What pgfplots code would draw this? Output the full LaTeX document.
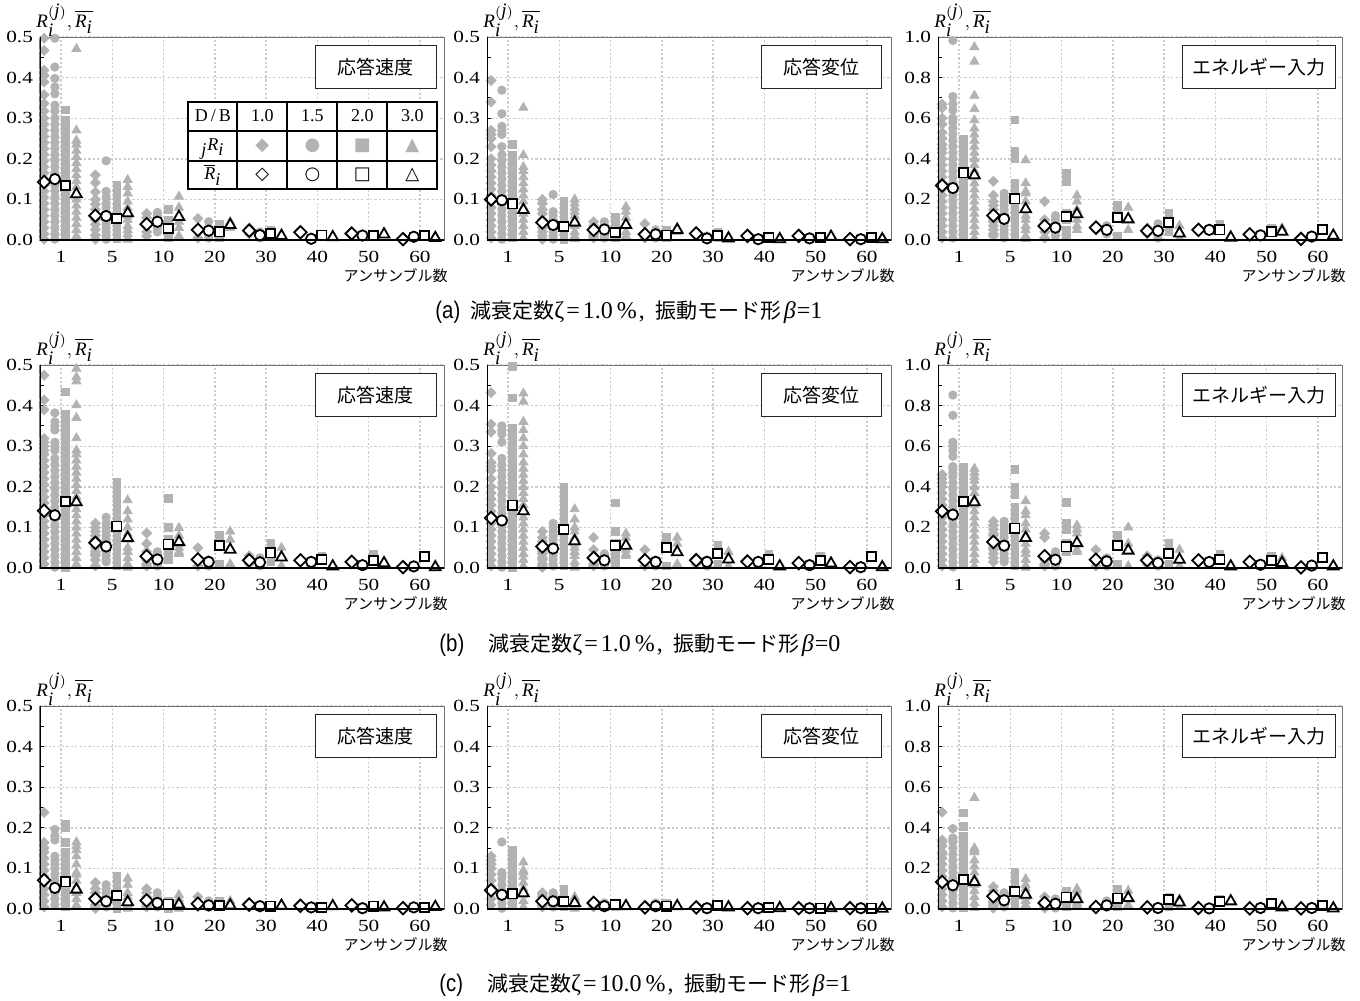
\documentclass[border=0pt]{standalone}
\usepackage{fontspec}
\setmainfont{Liberation Serif}
\newfontfamily\cjk{Noto Sans CJK JP}
\newfontfamily\arialn{Liberation Sans}[FakeStretch=0.85]
\newfontfamily\tickfont{Liberation Serif}[FakeStretch=1.25]
\newfontfamily\dejavu{DejaVu Sans}
\usepackage{array}
\usepackage{pgfplots}
\usepackage{pgfplotstable}
\pgfplotsset{compat=1.18}
\definecolor{gr}{RGB}{178,178,178}

\pgfplotsset{
 pan/.style={scale only axis, width=202pt, height=101.5pt, xmin=-0.41, xmax=7.47, ymin=0,
  xtick={0,...,7}, xticklabels={1,5,10,20,30,40,50,60},
  grid=major, major grid style={black!20, line width=0.7pt, dash pattern=on 1.1pt off 1.1pt},
  axis line style={black!55, line width=0.5pt},
  tick align=inside, xtick style={draw=none}, ytick pos=left,
  minor y tick num=1, major tick length=2pt, minor tick length=2pt,
  ytick style={black, line width=0.5pt},
  tick label style={font=\tickfont\fontsize{8.5}{9}\selectfont},
  xticklabel style={yshift=-2pt},
  /pgf/number format/assume math mode=true,
  yticklabel style={/pgf/number format/fixed, /pgf/number format/fixed zerofill, /pgf/number format/precision=1},
 },
 half/.style={pan, ymax=0.5, ytick={0,0.1,0.2,0.3,0.4,0.5}},
 full/.style={pan, ymax=1.0, ytick={0,0.2,0.4,0.6,0.8,1.0}},
 gD/.style={only marks, color=gr, mark=square*, mark size=1.75pt, mark options={rotate=45}},
 gC/.style={only marks, color=gr, mark=*, mark size=2.1pt},
 gS/.style={only marks, color=gr, mark=square*, mark size=1.9pt},
 gT/.style={only marks, color=gr, mark=triangle*, mark size=2.6pt},
 mD/.style={only marks, black, mark=square*, mark size=2.2pt, mark options={rotate=45, fill=white, line width=0.9pt}},
 mC/.style={only marks, black, mark=*, mark size=2.6pt, mark options={fill=white, line width=0.9pt}},
 mS/.style={only marks, black, mark=square*, mark size=2.3pt, mark options={fill=white, line width=0.9pt}},
 mT/.style={only marks, black, mark=triangle*, mark size=3.1pt, mark options={fill=white, line width=0.9pt}},
}
\newcommand\G[3]{\addplot[#1] table[header=false, x expr=\thisrowno{0}#2, y index=1, row sep=\\]{#3};}
\newcommand\M[1]{%
\addplot[mD] table[x expr=\thisrow{x}-.33,y=d]{#1};
\addplot[mC] table[x expr=\thisrow{x}-.12,y=c]{#1};
\addplot[mS] table[x expr=\thisrow{x}+.09,y=s]{#1};
\addplot[mT] table[x expr=\thisrow{x}+.30,y=t]{#1};}
\newcommand\cj[1]{{\cjk\fontsize{10.5}{12}\selectfont #1}}

\pgfplotstableread[row sep=\\]{x d c s t\\0 0.143 0.150 0.134 0.113\\1 0.060 0.059 0.053 0.066\\2 0.039 0.045 0.029 0.057\\3 0.025 0.023 0.020 0.037\\4 0.023 0.012 0.016 0.010\\5 0.019 0.003 0.012 0.007\\6 0.016 0.011 0.011 0.014\\7 0.002 0.008 0.010 0.005\\}\MAa
\pgfplotstableread[row sep=\\]{x d c s t\\0 0.100 0.098 0.089 0.074\\1 0.043 0.037 0.034 0.043\\2 0.025 0.026 0.018 0.037\\3 0.014 0.014 0.012 0.025\\4 0.016 0.004 0.011 0.004\\5 0.010 0.002 0.006 0.002\\6 0.010 0.004 0.006 0.008\\7 0.002 0.002 0.006 0.002\\}\MAb
\pgfplotstableread[row sep=\\]{x d c s t\\0 0.268 0.256 0.331 0.319\\1 0.121 0.104 0.202 0.152\\2 0.069 0.061 0.116 0.127\\3 0.061 0.050 0.112 0.102\\4 0.045 0.045 0.086 0.033\\5 0.050 0.050 0.050 0.012\\6 0.028 0.023 0.040 0.041\\7 0.005 0.017 0.053 0.021\\}\MAc
\pgfplotstableread[row sep=\\]{x d c s t\\0 0.141 0.130 0.164 0.162\\1 0.062 0.053 0.103 0.074\\2 0.029 0.021 0.059 0.064\\3 0.021 0.015 0.055 0.045\\4 0.019 0.014 0.037 0.026\\5 0.019 0.015 0.021 0.004\\6 0.015 0.007 0.018 0.012\\7 0.002 0.004 0.029 0.002\\}\MBa
\pgfplotstableread[row sep=\\]{x d c s t\\0 0.123 0.117 0.155 0.140\\1 0.053 0.048 0.095 0.066\\2 0.025 0.019 0.055 0.055\\3 0.019 0.015 0.051 0.039\\4 0.019 0.015 0.035 0.021\\5 0.016 0.015 0.021 0.004\\6 0.012 0.007 0.018 0.011\\7 0.002 0.002 0.029 0.002\\}\MBb
\pgfplotstableread[row sep=\\]{x d c s t\\0 0.280 0.263 0.329 0.324\\1 0.128 0.110 0.197 0.148\\2 0.058 0.041 0.104 0.123\\3 0.041 0.033 0.110 0.086\\4 0.038 0.025 0.071 0.041\\5 0.038 0.030 0.041 0.008\\6 0.030 0.016 0.036 0.025\\7 0.003 0.012 0.053 0.008\\}\MBc
\pgfplotstableread[row sep=\\]{x d c s t\\0 0.071 0.052 0.067 0.048\\1 0.025 0.019 0.033 0.017\\2 0.021 0.015 0.012 0.011\\3 0.013 0.009 0.009 0.009\\4 0.011 0.007 0.007 0.008\\5 0.008 0.004 0.004 0.007\\6 0.009 0.002 0.007 0.004\\7 0.002 0.004 0.004 0.005\\}\MCa
\pgfplotstableread[row sep=\\]{x d c s t\\0 0.046 0.035 0.037 0.039\\1 0.019 0.019 0.019 0.015\\2 0.015 0.007 0.011 0.007\\3 0.004 0.007 0.007 0.007\\4 0.004 0.002 0.008 0.004\\5 0.002 0.002 0.004 0.002\\6 0.002 0.002 0.002 0.002\\7 0.002 0.002 0.002 0.001\\}\MCb
\pgfplotstableread[row sep=\\]{x d c s t\\0 0.133 0.117 0.145 0.133\\1 0.063 0.043 0.087 0.071\\2 0.030 0.026 0.059 0.049\\3 0.010 0.018 0.054 0.054\\4 0.008 0.005 0.046 0.033\\5 0.005 0.003 0.038 0.038\\6 0.003 0.005 0.026 0.008\\7 0.003 0.005 0.018 0.003\\}\MCc

\begin{document}
\begin{tikzpicture}
\useasboundingbox (0,0) rectangle (680pt,-500.5pt);

% ---------------- (a) velocity
\begin{axis}[half, name=a1, at={(20pt,-120pt)}, anchor=south west]
\G{gD}{-.33}{0 .497\\0 .467\\0 .418\\0 .405\\0 .389\\0 .358\\0 .336\\0 .318\\0 .3\\0 .285\\0 .27\\0 .255\\0 .24\\0 .225\\0 .21\\0 .195\\0 .18\\0 .165\\0 .15\\0 .135\\0 .12\\0 .105\\0 .09\\0 .075\\0 .06\\0 .045\\0 .03\\0 .015\\0 .002\\1 .16\\1 .141\\1 .118\\1 .1\\1 .088\\1 .075\\1 .062\\1 .05\\1 .038\\1 .025\\1 .012\\1 .002\\2 .065\\2 .055\\2 .045\\2 .035\\2 .02\\2 .01\\3 .053\\3 .025\\3 .005\\4 .03\\4 .015\\}
\G{gC}{-.12}{0 .497\\0 .426\\0 .398\\0 .377\\0 .36\\0 .332\\0 .318\\0 .3\\0 .285\\0 .27\\0 .255\\0 .24\\0 .225\\0 .21\\0 .195\\0 .18\\0 .165\\0 .15\\0 .135\\0 .12\\0 .105\\0 .09\\0 .075\\0 .06\\0 .045\\0 .03\\0 .015\\0 .002\\1 .195\\1 .12\\1 .105\\1 .09\\1 .08\\1 .065\\1 .05\\1 .04\\1 .03\\1 .02\\1 .01\\1 .002\\2 .068\\2 .06\\2 .05\\2 .04\\2 .03\\2 .02\\3 .045\\3 .02\\3 .005\\4 .02\\4 .005\\}
\G{gS}{+.09}{0 .32\\0 .295\\0 .28\\0 .265\\0 .25\\0 .235\\0 .22\\0 .205\\0 .19\\0 .175\\0 .16\\0 .145\\0 .13\\0 .115\\0 .1\\0 .085\\0 .07\\0 .055\\0 .04\\0 .025\\0 .01\\1 .135\\1 .124\\1 .112\\1 .1\\1 .088\\1 .076\\1 .064\\1 .052\\1 .04\\1 .028\\1 .016\\1 .004\\2 .075\\2 .05\\2 .035\\2 .02\\2 .01\\2 .005\\3 .04\\3 .015\\3 .005\\4 .025\\4 .01\\6 .015\\}
\G{gT}{+.30}{0 .471\\0 .27\\0 .245\\0 .235\\0 .22\\0 .205\\0 .19\\0 .175\\0 .16\\0 .145\\0 .13\\0 .115\\0 .1\\0 .085\\0 .07\\0 .055\\0 .04\\0 .025\\0 .01\\1 .148\\1 .131\\1 .115\\1 .095\\1 .08\\1 .06\\1 .05\\1 .035\\1 .025\\1 .015\\1 .005\\1 .001\\2 .107\\2 .08\\2 .06\\2 .045\\2 .03\\2 .01\\3 .045\\3 .035\\3 .03\\4 .015\\4 .005\\}
\M{\MAa}
\end{axis}

% ---------------- (a) displacement
\begin{axis}[half, name=a2, at={(243.5pt,-120pt)}, anchor=south west]
\G{gD}{-.33}{0 .393\\0 .34\\0 .27\\0 .26\\0 .25\\0 .23\\0 .2\\0 .185\\0 .17\\0 .155\\0 .14\\0 .125\\0 .11\\0 .095\\0 .08\\0 .065\\0 .05\\0 .035\\0 .02\\0 .005\\1 .1\\1 .09\\1 .075\\1 .065\\1 .05\\1 .04\\1 .03\\1 .02\\1 .01\\1 .002\\2 .045\\2 .035\\2 .025\\2 .015\\2 .01\\2 .005\\3 .04\\3 .015\\3 .005\\4 .02\\4 .01\\}
\G{gC}{-.12}{0 .369\\0 .311\\0 .28\\0 .27\\0 .26\\0 .23\\0 .21\\0 .195\\0 .18\\0 .165\\0 .15\\0 .135\\0 .12\\0 .105\\0 .09\\0 .075\\0 .06\\0 .045\\0 .03\\0 .015\\0 .002\\1 .112\\1 .07\\1 .06\\1 .05\\1 .04\\1 .03\\1 .02\\1 .01\\1 .002\\2 .045\\2 .035\\2 .025\\2 .015\\2 .01\\2 .005\\3 .025\\3 .015\\3 .005\\4 .01\\4 .002\\}
\G{gS}{+.09}{0 .236\\0 .21\\0 .2\\0 .185\\0 .17\\0 .155\\0 .14\\0 .125\\0 .11\\0 .095\\0 .08\\0 .065\\0 .05\\0 .035\\0 .02\\0 .005\\1 .095\\1 .085\\1 .07\\1 .06\\1 .05\\1 .04\\1 .03\\1 .02\\1 .01\\1 .002\\2 .057\\2 .04\\2 .03\\2 .02\\2 .01\\2 .005\\3 .025\\3 .01\\3 .005\\4 .02\\4 .005\\}
\G{gT}{+.30}{0 .326\\0 .209\\0 .18\\0 .17\\0 .155\\0 .14\\0 .125\\0 .11\\0 .095\\0 .08\\0 .065\\0 .05\\0 .035\\0 .02\\0 .005\\1 .1\\1 .09\\1 .08\\1 .07\\1 .06\\1 .05\\1 .035\\1 .02\\1 .01\\1 .002\\2 .082\\2 .07\\2 .055\\2 .04\\2 .02\\2 .01\\3 .03\\3 .025\\3 .02\\4 .005\\4 .002\\}
\M{\MAb}
\end{axis}

% ---------------- (a) energy
\begin{axis}[full, name=a3, at={(469pt,-120pt)}, anchor=south west]
\G{gD}{-.33}{0 .669\\0 .65\\0 .6\\0 .57\\0 .53\\0 .5\\0 .47\\0 .45\\0 .43\\0 .4\\0 .37\\0 .34\\0 .31\\0 .28\\0 .25\\0 .22\\0 .19\\0 .16\\0 .13\\0 .1\\0 .07\\0 .04\\0 .01\\1 .289\\1 .22\\1 .19\\1 .17\\1 .15\\1 .12\\1 .1\\1 .09\\1 .07\\1 .05\\1 .03\\1 .02\\2 .19\\2 .1\\2 .08\\2 .06\\2 .04\\2 .01\\3 .07\\3 .06\\3 .05\\4 .06\\4 .03\\}
\G{gC}{-.12}{0 .983\\0 .707\\0 .67\\0 .64\\0 .6\\0 .58\\0 .55\\0 .52\\0 .49\\0 .46\\0 .43\\0 .4\\0 .37\\0 .34\\0 .31\\0 .28\\0 .25\\0 .22\\0 .19\\0 .16\\0 .13\\0 .1\\0 .07\\0 .04\\0 .01\\1 .23\\1 .21\\1 .19\\1 .17\\1 .15\\1 .13\\1 .11\\1 .09\\1 .07\\1 .05\\1 .03\\1 .01\\2 .12\\2 .1\\2 .08\\2 .06\\2 .04\\2 .02\\3 .07\\3 .04\\3 .03\\4 .08\\4 .01\\}
\G{gS}{+.09}{0 .496\\0 .47\\0 .44\\0 .41\\0 .38\\0 .35\\0 .32\\0 .29\\0 .26\\0 .23\\0 .2\\0 .17\\0 .14\\0 .11\\0 .08\\0 .05\\0 .02\\1 .592\\1 .438\\1 .4\\1 .28\\1 .25\\1 .22\\1 .19\\1 .16\\1 .12\\1 .09\\1 .05\\1 .02\\2 .331\\2 .29\\2 .13\\2 .1\\2 .05\\2 .02\\3 .17\\3 .14\\3 .02\\4 .13\\4 .04\\5 .08\\6 .06\\}
\G{gT}{+.30}{0 .95\\0 .879\\0 .711\\0 .645\\0 .59\\0 .55\\0 .52\\0 .49\\0 .46\\0 .43\\0 .4\\0 .37\\0 .34\\0 .31\\0 .28\\0 .25\\0 .22\\0 .19\\0 .16\\0 .13\\0 .1\\0 .07\\0 .04\\0 .01\\1 .393\\1 .28\\1 .24\\1 .23\\1 .19\\1 .15\\1 .12\\1 .1\\1 .07\\1 .05\\1 .02\\1 .005\\2 .22\\2 .19\\2 .15\\2 .1\\2 .07\\2 .05\\3 .16\\3 .1\\3 .05\\4 .07\\4 .01\\6 .06\\}
\M{\MAc}
\end{axis}

% ---------------- (b) velocity
\begin{axis}[half, name=a4, at={(20pt,-284pt)}, anchor=south west]
\G{gD}{-.33}{0 .475\\0 .414\\0 .39\\0 .319\\0 .31\\0 .3\\0 .29\\0 .28\\0 .265\\0 .25\\0 .235\\0 .22\\0 .205\\0 .19\\0 .175\\0 .16\\0 .145\\0 .13\\0 .115\\0 .1\\0 .085\\0 .07\\0 .055\\0 .04\\0 .025\\0 .01\\1 .11\\1 .1\\1 .09\\1 .08\\1 .07\\1 .06\\1 .05\\1 .04\\1 .035\\1 .03\\1 .02\\1 .005\\2 .086\\2 .06\\2 .04\\2 .02\\2 .01\\2 .005\\3 .05\\3 .02\\3 .005\\4 .03\\4 .01\\}
\G{gC}{-.12}{0 .382\\0 .36\\0 .35\\0 .34\\0 .31\\0 .3\\0 .29\\0 .27\\0 .255\\0 .24\\0 .225\\0 .21\\0 .195\\0 .18\\0 .165\\0 .15\\0 .135\\0 .12\\0 .105\\0 .09\\0 .075\\0 .06\\0 .045\\0 .03\\0 .015\\0 .002\\1 .125\\1 .11\\1 .1\\1 .09\\1 .08\\1 .07\\1 .06\\1 .05\\1 .04\\1 .03\\1 .02\\1 .015\\2 .04\\2 .035\\2 .03\\2 .02\\2 .01\\2 .005\\3 .02\\3 .01\\3 .005\\4 .025\\4 .005\\}
\G{gS}{+.09}{0 .434\\0 .38\\0 .37\\0 .36\\0 .345\\0 .33\\0 .315\\0 .3\\0 .285\\0 .27\\0 .255\\0 .24\\0 .225\\0 .21\\0 .195\\0 .18\\0 .165\\0 .15\\0 .135\\0 .12\\0 .105\\0 .09\\0 .075\\0 .06\\0 .045\\0 .03\\0 .015\\0 .002\\1 .211\\1 .195\\1 .18\\1 .16\\1 .14\\1 .12\\1 .1\\1 .08\\1 .06\\1 .04\\1 .02\\1 .005\\2 .171\\2 .1\\2 .07\\2 .05\\2 .03\\2 .02\\3 .08\\3 .07\\3 .01\\4 .06\\4 .015\\5 .03\\6 .035\\}
\G{gT}{+.30}{0 .491\\0 .47\\0 .46\\0 .401\\0 .37\\0 .32\\0 .29\\0 .28\\0 .265\\0 .25\\0 .235\\0 .22\\0 .205\\0 .19\\0 .175\\0 .16\\0 .145\\0 .13\\0 .115\\0 .1\\0 .085\\0 .07\\0 .055\\0 .04\\0 .025\\0 .01\\1 .167\\1 .14\\1 .12\\1 .1\\1 .085\\1 .07\\1 .05\\1 .04\\1 .025\\1 .01\\1 .005\\1 .001\\2 .099\\2 .08\\2 .06\\2 .05\\2 .04\\2 .035\\3 .09\\3 .07\\3 .01\\4 .05\\4 .005\\}
\M{\MBa}
\end{axis}

% ---------------- (b) displacement
\begin{axis}[half, name=a5, at={(243.5pt,-284pt)}, anchor=south west]
\G{gD}{-.33}{0 .432\\0 .354\\0 .335\\0 .282\\0 .26\\0 .25\\0 .24\\0 .22\\0 .2\\0 .185\\0 .17\\0 .155\\0 .14\\0 .125\\0 .11\\0 .095\\0 .08\\0 .065\\0 .05\\0 .035\\0 .02\\0 .005\\1 .09\\1 .075\\1 .065\\1 .055\\1 .045\\1 .04\\1 .035\\1 .025\\1 .02\\1 .01\\1 .005\\1 .001\\2 .075\\2 .045\\2 .03\\2 .02\\2 .01\\2 .005\\3 .045\\3 .02\\3 .005\\4 .025\\4 .01\\}
\G{gC}{-.12}{0 .35\\0 .34\\0 .33\\0 .31\\0 .27\\0 .255\\0 .24\\0 .225\\0 .21\\0 .195\\0 .18\\0 .165\\0 .15\\0 .135\\0 .12\\0 .105\\0 .09\\0 .075\\0 .06\\0 .045\\0 .03\\0 .015\\0 .002\\1 .11\\1 .1\\1 .09\\1 .08\\1 .07\\1 .06\\1 .05\\1 .04\\1 .03\\1 .02\\1 .01\\1 .005\\2 .035\\2 .03\\2 .02\\2 .015\\2 .01\\2 .005\\3 .02\\3 .01\\3 .005\\4 .02\\4 .005\\}
\G{gS}{+.09}{0 .497\\0 .419\\0 .345\\0 .33\\0 .315\\0 .3\\0 .285\\0 .27\\0 .255\\0 .24\\0 .225\\0 .21\\0 .195\\0 .18\\0 .165\\0 .15\\0 .135\\0 .12\\0 .105\\0 .09\\0 .075\\0 .06\\0 .045\\0 .03\\0 .015\\0 .002\\1 .2\\1 .185\\1 .17\\1 .155\\1 .14\\1 .12\\1 .1\\1 .08\\1 .06\\1 .04\\1 .02\\1 .005\\2 .16\\2 .09\\2 .06\\2 .04\\2 .02\\2 .01\\3 .075\\3 .06\\3 .005\\4 .055\\4 .01\\5 .035\\6 .03\\}
\G{gT}{+.30}{0 .43\\0 .41\\0 .36\\0 .34\\0 .32\\0 .3\\0 .28\\0 .26\\0 .245\\0 .23\\0 .215\\0 .2\\0 .185\\0 .17\\0 .155\\0 .14\\0 .125\\0 .11\\0 .095\\0 .08\\0 .065\\0 .05\\0 .035\\0 .02\\0 .005\\1 .145\\1 .12\\1 .1\\1 .09\\1 .075\\1 .06\\1 .05\\1 .04\\1 .03\\1 .015\\1 .005\\1 .001\\2 .085\\2 .075\\2 .06\\2 .045\\2 .035\\2 .03\\3 .075\\3 .06\\3 .01\\4 .04\\4 .005\\}
\M{\MBb}
\end{axis}

% ---------------- (b) energy
\begin{axis}[full, name=a6, at={(469pt,-284pt)}, anchor=south west]
\G{gD}{-.33}{0 .46\\0 .44\\0 .42\\0 .4\\0 .37\\0 .34\\0 .31\\0 .28\\0 .25\\0 .22\\0 .19\\0 .16\\0 .13\\0 .1\\0 .07\\0 .04\\0 .01\\1 .23\\1 .21\\1 .19\\1 .17\\1 .16\\1 .14\\1 .12\\1 .1\\1 .09\\1 .07\\1 .05\\1 .03\\2 .17\\2 .15\\2 .06\\2 .04\\2 .02\\2 .01\\3 .09\\3 .04\\3 .01\\4 .06\\4 .02\\}
\G{gC}{-.12}{0 .852\\0 .752\\0 .62\\0 .6\\0 .58\\0 .55\\0 .5\\0 .49\\0 .47\\0 .45\\0 .42\\0 .39\\0 .36\\0 .33\\0 .3\\0 .27\\0 .24\\0 .21\\0 .18\\0 .15\\0 .12\\0 .09\\0 .06\\0 .03\\0 .005\\1 .23\\1 .21\\1 .19\\1 .17\\1 .15\\1 .13\\1 .11\\1 .09\\1 .07\\1 .05\\1 .04\\1 .03\\2 .08\\2 .07\\2 .05\\2 .03\\2 .02\\2 .01\\3 .05\\3 .03\\3 .01\\4 .04\\4 .01\\}
\G{gS}{+.09}{0 .498\\0 .47\\0 .44\\0 .41\\0 .38\\0 .35\\0 .32\\0 .29\\0 .26\\0 .23\\0 .2\\0 .17\\0 .14\\0 .11\\0 .08\\0 .05\\0 .02\\1 .485\\1 .4\\1 .36\\1 .3\\1 .26\\1 .22\\1 .18\\1 .14\\1 .1\\1 .07\\1 .04\\1 .01\\2 .324\\2 .22\\2 .19\\2 .12\\2 .09\\2 .08\\3 .16\\3 .12\\3 .02\\4 .12\\4 .02\\5 .07\\6 .06\\}
\G{gT}{+.30}{0 .49\\0 .47\\0 .45\\0 .43\\0 .4\\0 .37\\0 .34\\0 .31\\0 .28\\0 .25\\0 .22\\0 .19\\0 .16\\0 .13\\0 .1\\0 .07\\0 .04\\0 .01\\1 .33\\1 .28\\1 .26\\1 .22\\1 .19\\1 .16\\1 .12\\1 .09\\1 .07\\1 .04\\1 .01\\1 .002\\2 .21\\2 .19\\2 .17\\2 .12\\2 .09\\2 .08\\3 .2\\3 .12\\3 .01\\4 .09\\4 .01\\6 .05\\}
\M{\MBc}
\end{axis}

% ---------------- (c) velocity
\begin{axis}[half, name=a7, at={(20pt,-454.5pt)}, anchor=south west]
\G{gD}{-.33}{0 .238\\0 .164\\0 .15\\0 .14\\0 .125\\0 .11\\0 .095\\0 .08\\0 .065\\0 .05\\0 .035\\0 .02\\0 .005\\1 .065\\1 .05\\1 .04\\1 .03\\1 .02\\1 .01\\1 .005\\1 .001\\2 .05\\2 .04\\2 .03\\2 .02\\2 .01\\2 .005\\3 .03\\3 .01\\3 .005\\4 .015\\4 .005\\}
\G{gC}{-.12}{0 .196\\0 .18\\0 .17\\0 .13\\0 .12\\0 .11\\0 .1\\0 .085\\0 .07\\0 .055\\0 .04\\0 .025\\0 .01\\1 .06\\1 .05\\1 .04\\1 .03\\1 .02\\1 .015\\1 .01\\1 .005\\2 .04\\2 .03\\2 .02\\2 .015\\2 .01\\2 .005\\3 .02\\3 .01\\3 .005\\4 .01\\4 .005\\}
\G{gS}{+.09}{0 .21\\0 .2\\0 .164\\0 .14\\0 .125\\0 .11\\0 .095\\0 .08\\0 .065\\0 .05\\0 .035\\0 .02\\0 .005\\1 .08\\1 .07\\1 .06\\1 .05\\1 .04\\1 .03\\1 .02\\1 .01\\1 .001\\2 .02\\2 .015\\2 .01\\2 .008\\2 .005\\2 .001\\3 .02\\3 .01\\3 .005\\4 .01\\4 .005\\}
\G{gT}{+.30}{0 .165\\0 .155\\0 .145\\0 .13\\0 .11\\0 .09\\0 .085\\0 .07\\0 .055\\0 .04\\0 .025\\0 .01\\1 .075\\1 .06\\1 .04\\1 .03\\1 .02\\1 .01\\1 .005\\1 .001\\2 .035\\2 .025\\2 .02\\2 .01\\2 .005\\2 .001\\3 .02\\3 .01\\3 .005\\4 .01\\4 .005\\}
\M{\MCa}
\end{axis}

% ---------------- (c) displacement
\begin{axis}[half, name=a8, at={(243.5pt,-454.5pt)}, anchor=south west]
\G{gD}{-.33}{0 .13\\0 .12\\0 .11\\0 .1\\0 .085\\0 .07\\0 .055\\0 .04\\0 .025\\0 .01\\1 .04\\1 .035\\1 .03\\1 .02\\1 .01\\1 .005\\2 .02\\2 .015\\2 .01\\2 .005\\3 .01\\}
\G{gC}{-.12}{0 .165\\0 .09\\0 .085\\0 .075\\0 .06\\0 .045\\0 .03\\0 .015\\0 .002\\1 .04\\1 .035\\1 .03\\1 .02\\1 .01\\1 .005\\2 .015\\2 .01\\2 .005\\3 .015\\}
\G{gS}{+.09}{0 .145\\0 .13\\0 .115\\0 .1\\0 .085\\0 .07\\0 .055\\0 .04\\0 .025\\0 .01\\1 .05\\1 .045\\1 .035\\1 .025\\1 .015\\1 .005\\2 .015\\2 .01\\2 .005\\3 .015\\}
\G{gT}{+.30}{0 .115\\0 .095\\0 .09\\0 .08\\0 .065\\0 .05\\0 .035\\0 .02\\0 .005\\1 .03\\1 .025\\1 .02\\1 .01\\1 .005\\1 .001\\2 .01\\2 .005\\}
\M{\MCb}
\end{axis}

% ---------------- (c) energy
\begin{axis}[full, name=a9, at={(469pt,-454.5pt)}, anchor=south west]
\G{gD}{-.33}{0 .477\\0 .34\\0 .33\\0 .31\\0 .28\\0 .27\\0 .25\\0 .22\\0 .19\\0 .16\\0 .13\\0 .1\\0 .07\\0 .04\\0 .01\\1 .11\\1 .09\\1 .07\\1 .06\\1 .04\\1 .03\\1 .02\\1 .01\\1 .005\\2 .06\\2 .04\\2 .03\\2 .02\\2 .01\\2 .005\\3 .02\\3 .01\\3 .005\\}
\G{gC}{-.12}{0 .396\\0 .35\\0 .34\\0 .33\\0 .3\\0 .27\\0 .24\\0 .21\\0 .18\\0 .15\\0 .12\\0 .09\\0 .06\\0 .03\\0 .005\\1 .08\\1 .07\\1 .06\\1 .05\\1 .04\\1 .03\\1 .02\\1 .01\\2 .05\\2 .04\\2 .03\\2 .02\\2 .01\\2 .005\\3 .04\\3 .02\\3 .01\\}
\G{gS}{+.09}{0 .474\\0 .408\\0 .36\\0 .33\\0 .3\\0 .27\\0 .24\\0 .21\\0 .18\\0 .15\\0 .12\\0 .09\\0 .06\\0 .03\\0 .005\\1 .181\\1 .16\\1 .14\\1 .12\\1 .1\\1 .08\\1 .06\\1 .04\\1 .02\\2 .09\\2 .08\\2 .06\\2 .04\\2 .03\\2 .01\\3 .1\\3 .07\\3 .01\\4 .06\\4 .01\\5 .05\\}
\G{gT}{+.30}{0 .548\\0 .3\\0 .29\\0 .28\\0 .24\\0 .21\\0 .18\\0 .15\\0 .12\\0 .09\\0 .06\\0 .03\\0 .005\\1 .148\\1 .12\\1 .1\\1 .08\\1 .06\\1 .04\\1 .02\\1 .01\\2 .1\\2 .09\\2 .07\\2 .05\\2 .03\\2 .02\\3 .09\\3 .06\\3 .02\\4 .05\\4 .01\\}
\M{\MCc}
\end{axis}

% ---------------- frame lines and texts
\foreach \n in {a1,a2,a3,a4,a5,a6,a7,a8,a9}{
 \draw[black, line width=0.5pt] (\n.south west) -- (\n.north west);
 \draw[black, line width=1pt] (\n.south west) -- (\n.south east);
 \node[anchor=base west, inner sep=0pt, font=\fontsize{9.5}{10}\selectfont] at ([xshift=-2pt,yshift=5pt]\n.north west) {$\textit{R}^{(\textit{j})}_{\textit{i}},\overline{\textit{R}_{\textit{i}}}$};
 \node[anchor=east, inner sep=0pt, font=\cjk\fontsize{7.5}{8}\selectfont] at ([xshift=2pt,yshift=-18pt]\n.south east) {アンサンブル数};
}
\foreach \n in {a1,a4,a7}{
 \node[draw=black!85, line width=0.6pt, fill=white, anchor=north east, minimum width=60.5pt, minimum height=21.5pt, inner sep=0pt, font=\cjk\fontsize{9.5}{10}\selectfont] at ([xshift=-3.5pt,yshift=-4pt]\n.north east) {応答速度};
}
\foreach \n in {a2,a5,a8}{
 \node[draw=black!85, line width=0.6pt, fill=white, anchor=north east, minimum width=60pt, minimum height=21.5pt, inner sep=0pt, font=\cjk\fontsize{9.5}{10}\selectfont] at ([xshift=-4.5pt,yshift=-4pt]\n.north east) {応答変位};
}
\foreach \n in {a3,a6,a9}{
 \node[draw=black!85, line width=0.6pt, fill=white, anchor=north east, minimum width=76.5pt, minimum height=21.5pt, inner sep=0pt, font=\cjk\fontsize{9.5}{10}\selectfont] at ([xshift=-3pt,yshift=-4pt]\n.north east) {エネルギー入力};
}

% legend table
\node[anchor=north west, inner sep=0pt, fill=white] at ([xshift=73.5pt,yshift=-32pt]a1.north west) {%
 \setlength{\arrayrulewidth}{1pt}\setlength{\tabcolsep}{0pt}\renewcommand{\arraystretch}{1.25}%
 \fontsize{9}{10.5}\selectfont
 \begin{tabular}{|w{c}{23.5pt}|w{c}{24pt}|w{c}{24pt}|w{c}{24pt}|w{c}{24pt}|}\hline
 D\,/\,B & 1.0 & 1.5 & 2.0 & 3.0\\\hline
 ${}_{\textit{j}}\textit{R}_{\textit{i}}$ & {\dejavu\color{gr}◆} & {\dejavu\color{gr}●} & {\dejavu\color{gr}■} & {\dejavu\color{gr}▲}\\\hline
 $\overline{\textit{R}}_{\textit{i}}$ & {\dejavu ◇} & {\dejavu ○} & {\dejavu □} & {\dejavu △}\\\hline
 \end{tabular}};

% captions
\node[anchor=west, inner sep=0pt, font=\fontsize{12}{14}\selectfont] at (217.5pt,-156pt) {{\arialn (a)}\hspace{5pt}\cj{減衰定数}ζ\kern1pt=\kern1.5pt1.0\kern2pt\%\kern1pt,\hspace{5.5pt}\cj{振動モード形}\kern1pt\textit{β}\kern0.5pt=1};
\node[anchor=west, inner sep=0pt, font=\fontsize{12}{14}\selectfont] at (219.5pt,-322.5pt) {{\arialn (b)}\hspace{12pt}\cj{減衰定数}ζ\kern1pt=\kern1.5pt1.0\kern2pt\%\kern1pt,\hspace{5.5pt}\cj{振動モード形}\kern1pt\textit{β}\kern0.5pt=0};
\node[anchor=west, inner sep=0pt, font=\fontsize{12}{14}\selectfont] at (219.5pt,-492.5pt) {{\arialn (c)}\hspace{12pt}\cj{減衰定数}ζ\kern1pt=\kern1.5pt10.0\kern2pt\%\kern1pt,\hspace{5.5pt}\cj{振動モード形}\kern1pt\textit{β}\kern0.5pt=1};
\end{tikzpicture}
\end{document}
